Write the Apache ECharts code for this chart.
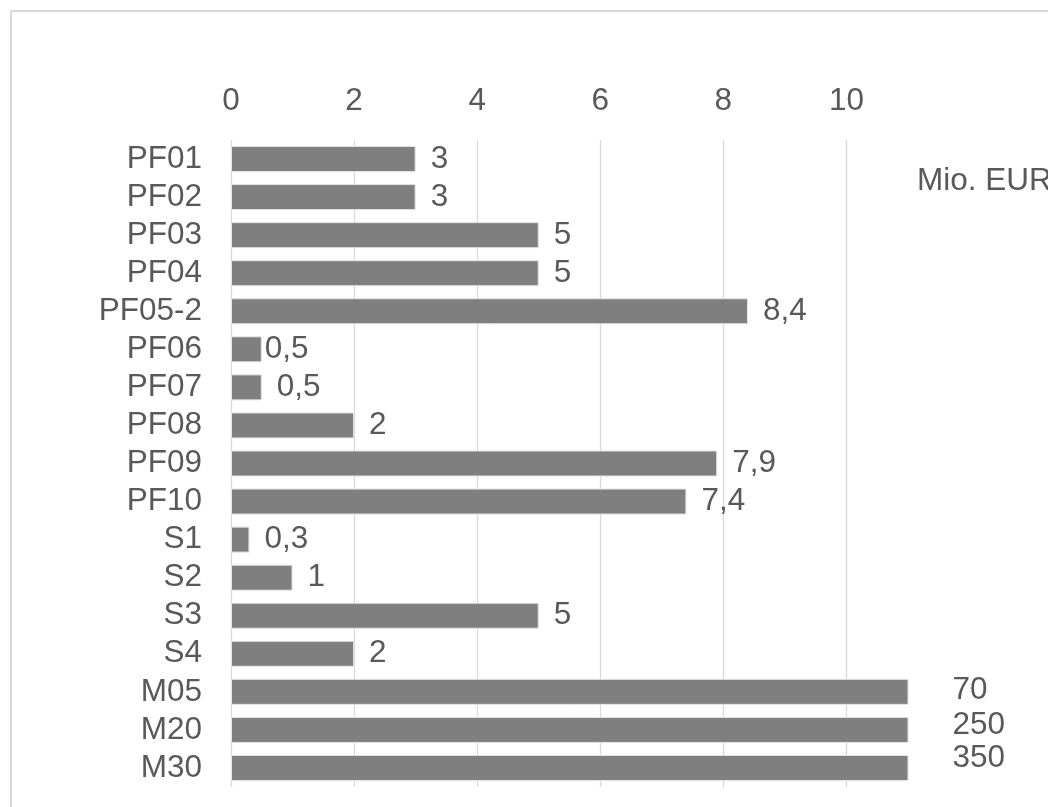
<!DOCTYPE html>
<html>
<head>
<meta charset="utf-8">
<script src="https://cdn.jsdelivr.net/npm/echarts@6/dist/echarts.min.js"></script>
<style>
  html, body { margin: 0; padding: 0; background: #ffffff; }
  #chart { width: 1048px; height: 807px; }
</style>
</head>
<body>
<div id="chart"></div>
<script>
// Project budgets in Mio. EUR
const categories = ['PF01', 'PF02', 'PF03', 'PF04', 'PF05-2', 'PF06', 'PF07', 'PF08', 'PF09', 'PF10',
                    'S1', 'S2', 'S3', 'S4', 'M05', 'M20', 'M30'];
const budgets = [3, 3, 5, 5, 8.4, 0.5, 0.5, 2, 7.9, 7.4, 0.3, 1, 5, 2, 70, 250, 350];
const axisTicks = [0, 2, 4, 6, 8, 10];
const unitLabel = 'Mio. EUR';

// Label placement tweaks (pixel nudges) for a few bars
const labelNudge = {
  'PF06': [-12, 0],
  'M05': [29, -2],
  'M20': [29, -5],
  'M30': [29, -10]
};

const FONT = '"Liberation Sans", Arial, sans-serif';
const FONT_SIZE = 31.5;
const TEXT_COLOR = '#595959';
const GRID_COLOR = '#d9d9d9';

const barData = budgets.map((v, i) => {
  const item = { value: v };
  const nudge = labelNudge[categories[i]];
  if (nudge) item.label = { offset: nudge };
  return item;
});

const chart = echarts.init(document.getElementById('chart'), null, { renderer: 'canvas' });

chart.setOption({
  backgroundColor: '#ffffff',
  animation: false,
  grid: { left: 231, right: 140, top: 140, bottom: 20, containLabel: false },
  xAxis: {
    type: 'value',
    position: 'top',
    min: axisTicks[0],
    max: 11,
    interval: axisTicks[1] - axisTicks[0],
    axisLine: { show: false },
    axisTick: { show: false },
    axisLabel: {
      show: true,
      showMaxLabel: false,
      margin: 23,
      fontFamily: FONT,
      fontSize: FONT_SIZE,
      color: TEXT_COLOR,
      formatter: v => axisTicks.includes(v) ? String(v) : ''
    },
    splitLine: {
      show: true,
      showMaxLine: false,
      lineStyle: { color: GRID_COLOR, width: 1.3 }
    }
  },
  yAxis: {
    type: 'category',
    data: categories,
    inverse: true,
    axisLine: { show: false },
    axisTick: { show: false },
    axisLabel: {
      interval: 0,
      margin: 29,
      fontFamily: FONT,
      fontSize: FONT_SIZE,
      color: TEXT_COLOR
    }
  },
  series: [{
    type: 'bar',
    data: barData,
    barWidth: 26,
    clip: true,
    itemStyle: { color: '#7f7f7f', borderColor: '#e4e4e4', borderWidth: 1 },
    label: {
      show: true,
      position: 'right',
      distance: 15,
      fontFamily: FONT,
      fontSize: FONT_SIZE,
      color: TEXT_COLOR,
      formatter: p => String(p.value).replace('.', ',')
    }
  }],
  graphic: [
    {
      type: 'rect',
      silent: true,
      shape: { x: 11, y: 11, width: 1100, height: 900 },
      style: { fill: 'none', stroke: GRID_COLOR, lineWidth: 2 }
    },
    {
      type: 'text',
      silent: true,
      x: 917,
      y: 181,
      style: {
        text: unitLabel,
        font: FONT_SIZE + 'px ' + FONT,
        fill: TEXT_COLOR,
        verticalAlign: 'middle',
        align: 'left'
      }
    }
  ]
});
</script>
</body>
</html>
